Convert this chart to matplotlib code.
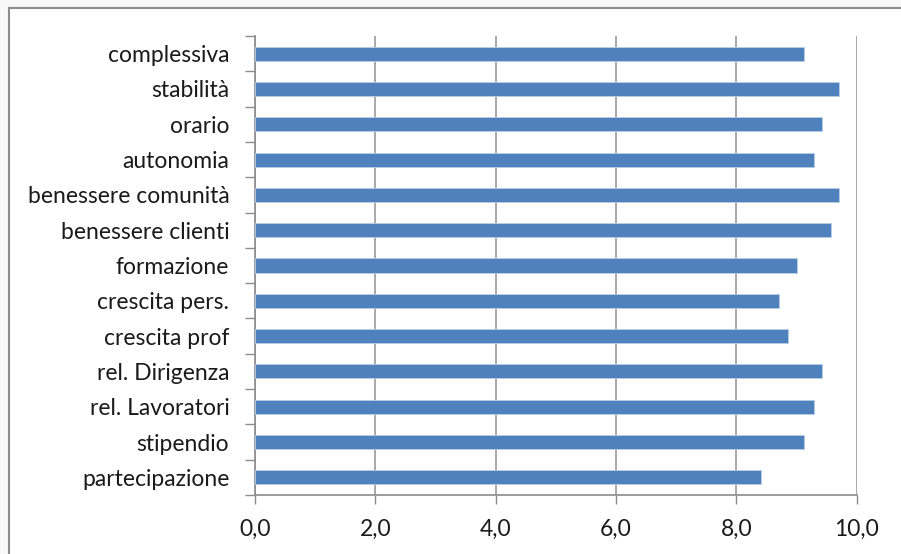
import matplotlib
matplotlib.use("Agg")

import matplotlib.pyplot as plt
from matplotlib.patches import Rectangle
from matplotlib.ticker import FixedLocator, FuncFormatter

# data (top to bottom as shown)
categories = [
    "complessiva",
    "stabilità",
    "orario",
    "autonomia",
    "benessere comunità",
    "benessere clienti",
    "formazione",
    "crescita pers.",
    "crescita prof",
    "rel. Dirigenza",
    "rel. Lavoratori",
    "stipendio",
    "partecipazione",
]
values = [9.13, 9.71, 9.43, 9.29, 9.71, 9.57, 9.00, 8.71, 8.86, 9.43, 9.29, 9.13, 8.41]
x_ticks = [0, 2, 4, 6, 8, 10]

plt.rcParams["font.family"] = ["Lato", "DejaVu Sans"]

fig = plt.figure(figsize=(9.01, 5.54), dpi=100, facecolor="#f8f8f8")

# outer chart frame (top and left edges visible)
fig.patches.append(Rectangle(
    (9 / 901, -0.05), 1.1, 1 - 8 / 554 + 0.05,
    transform=fig.transFigure, facecolor="white",
    edgecolor="#8c8c8c", linewidth=1.5, zorder=0,
))

ax = fig.add_axes([255 / 901, 1 - 495 / 554, (856.7 - 255) / 901, (495 - 36) / 554])
ax.set_facecolor("none")
ax.set_zorder(2)

n = len(categories)
ypos = list(range(n))[::-1]
ax.barh(ypos, values, height=0.4, color="#4F81BD", edgecolor="#b9cde5",
        linewidth=0.6, zorder=3)

ax.set_xlim(0, 10)
ax.set_ylim(-0.5, n - 0.5)

ax.set_xticks(x_ticks)
ax.xaxis.set_major_formatter(FuncFormatter(lambda v, p: f"{v:.1f}".replace(".", ",")))
ax.set_yticks(ypos)
ax.set_yticklabels(categories)
ax.yaxis.set_minor_locator(FixedLocator([i - 0.5 for i in range(n + 1)]))

ax.tick_params(axis="y", which="major", length=0, pad=18.5, labelsize=16.5, labelcolor="#1a1a1a")
ax.tick_params(axis="y", which="minor", length=7, width=1, color="#8c8c8c", direction="out")
ax.tick_params(axis="x", which="major", length=6.5, width=1, color="#8c8c8c",
               pad=11, labelsize=16.5, labelcolor="#1a1a1a")

ax.grid(axis="x", color="#999999", linewidth=1.2, zorder=0)
for s in ["top", "right"]:
    ax.spines[s].set_visible(False)
for s in ["left", "bottom"]:
    ax.spines[s].set_color("#8c8c8c")
    ax.spines[s].set_linewidth(1.2)

fig.savefig("out.png", dpi=100, facecolor=fig.get_facecolor())
